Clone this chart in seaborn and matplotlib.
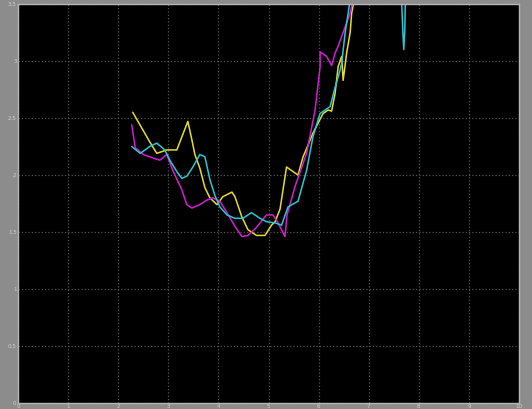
import numpy as np
import pandas as pd
import matplotlib
matplotlib.use("Agg")
import matplotlib.pyplot as plt
import seaborn as sns

# ---- data ----
yellow_x = [2.29, 2.63, 2.77, 2.97, 3.17, 3.39, 3.47, 3.53, 3.63, 3.73, 3.83, 3.97, 4.09, 4.27, 4.33,
            4.47, 4.59, 4.76, 4.93, 5.06, 5.13, 5.23, 5.36, 5.49, 5.59, 5.69, 5.73, 5.89, 6.09, 6.19,
            6.26, 6.33, 6.39, 6.46, 6.49, 6.56, 6.63, 6.66, 6.69, 6.75]
yellow_y = [2.55, 2.29, 2.19, 2.22, 2.22, 2.47, 2.31, 2.18, 2.06, 1.89, 1.80, 1.74, 1.81, 1.85, 1.81,
            1.63, 1.52, 1.47, 1.47, 1.56, 1.59, 1.70, 2.07, 2.03, 2.00, 2.16, 2.20, 2.37, 2.54, 2.57,
            2.56, 2.72, 2.95, 3.04, 2.83, 3.07, 3.25, 3.42, 3.49, 3.71]

magenta_x = [2.27, 2.34, 2.50, 2.69, 2.83, 2.97, 3.09, 3.27, 3.37, 3.47, 3.63, 3.77, 3.89, 4.03, 4.17,
             4.33, 4.47, 4.59, 4.76, 4.96, 5.09, 5.19, 5.33, 5.37, 5.53, 5.76, 5.93, 6.03, 6.03, 6.16,
             6.26, 6.33, 6.39, 6.53, 6.63, 6.69, 6.73]
magenta_y = [2.44, 2.24, 2.18, 2.15, 2.13, 2.18, 2.04, 1.87, 1.74, 1.71, 1.74, 1.78, 1.80, 1.77, 1.67,
             1.55, 1.46, 1.47, 1.54, 1.65, 1.65, 1.58, 1.46, 1.65, 1.90, 2.19, 2.57, 2.95, 3.08, 3.04,
             2.96, 3.07, 3.13, 3.30, 3.42, 3.54, 3.71]

cyan_x = [2.27, 2.44, 2.63, 2.77, 2.93, 3.03, 3.17, 3.27, 3.37, 3.49, 3.63, 3.73, 3.83, 3.93, 4.03,
          4.17, 4.33, 4.49, 4.66, 4.83, 4.96, 5.13, 5.26, 5.39, 5.59, 5.69, 5.76, 5.89, 6.03, 6.23,
          6.33, 6.43, 6.46, 6.53, 6.59, 6.63, 6.67]
cyan_y = [2.25, 2.19, 2.25, 2.28, 2.22, 2.13, 2.03, 1.97, 1.99, 2.07, 2.18, 2.16, 1.96, 1.82, 1.72,
          1.65, 1.62, 1.62, 1.67, 1.62, 1.59, 1.58, 1.56, 1.72, 1.77, 1.93, 2.04, 2.34, 2.54, 2.60,
          2.77, 2.92, 2.98, 3.25, 3.42, 3.54, 3.71]
cyan_spike_x = [7.64, 7.68, 7.70, 7.72, 7.74]
cyan_spike_y = [3.71, 3.27, 3.10, 3.27, 3.71]

x_ticks = [0, 1, 2, 3, 4, 5, 6, 7, 8, 9, 10]
y_ticks = [0, 0.5, 1, 1.5, 2, 2.5, 3, 3.5]
y_tick_labels = ["0", "0.5", "1", "1.5", "2", "2.5", "3", "3.5"]

frames = [
    pd.DataFrame({"x": yellow_x, "y": yellow_y, "series": "yellow", "seg": 0}),
    pd.DataFrame({"x": magenta_x, "y": magenta_y, "series": "magenta", "seg": 1}),
    pd.DataFrame({"x": cyan_x, "y": cyan_y, "series": "cyan", "seg": 2}),
    pd.DataFrame({"x": cyan_spike_x, "y": cyan_spike_y, "series": "cyan", "seg": 3}),
]
df = pd.concat(frames, ignore_index=True)

palette = {"yellow": "#e6dc28", "magenta": "#d21ed2", "cyan": "#2cc6d2"}

sns.set_style("dark")
fig = plt.figure(figsize=(5.32, 4.09), dpi=100, facecolor="#8c8c8c")
ax = fig.add_axes([18/532, 6/409, 501/532, 399/409])
ax.set_facecolor("black")

sns.lineplot(data=df, x="x", y="y", hue="series", units="seg", estimator=None,
             sort=False, palette=palette, linewidth=1.1, legend=False, ax=ax)

ax.set_xlim(0, 10)
ax.set_ylim(0, 3.5)
ax.set_xticks(x_ticks)
ax.set_xticklabels([str(t) for t in x_ticks])
ax.set_yticks(y_ticks)
ax.set_yticklabels(y_tick_labels)
ax.set_xlabel("")
ax.set_ylabel("")
ax.grid(True, color="#555555", linestyle=":", linewidth=0.9)
ax.tick_params(axis="both", direction="in", length=4, color="#9a9a9a",
               labelsize=4, labelcolor="#cfcfcf", pad=1)
for s in ax.spines.values():
    s.set_color("#b5b5b5")
    s.set_linewidth(1.0)
    s.set_visible(True)

fig.savefig("out.png", dpi=100, facecolor=fig.get_facecolor())
